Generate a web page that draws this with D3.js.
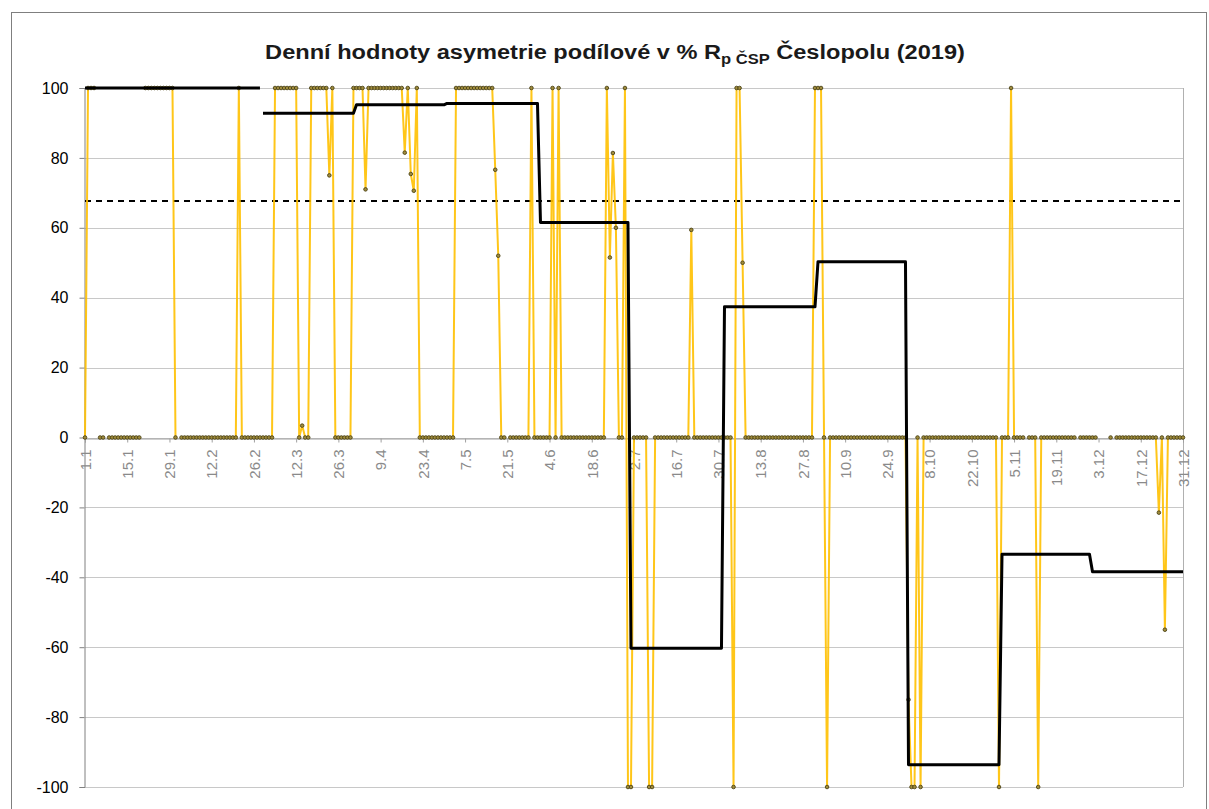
<!DOCTYPE html>
<html>
<head>
<meta charset="utf-8">
<script src="https://cdn.jsdelivr.net/npm/d3@7"></script>
<style>
  html, body { margin: 0; padding: 0; background: #fff; }
  svg { display: block; }
</style>
</head>
<body>
<svg id="chart" width="1209" height="809"></svg>
<script>
// ---------------- DATA ----------------
const titleMain = "Denní hodnoty asymetrie podílové v % R";
const titleSub = "p ČSP";
const titleEnd = " Česlopolu (2019)";

// Tick labels on the category axis (every 14th day)
const xTickLabels = ["1.1","15.1","29.1","12.2","26.2","12.3","26.3","9.4","23.4","7.5","21.5","4.6","18.6",
  "2.7","16.7","30.7","13.8","27.8","10.9","24.9","8.10","22.10","5.11","19.11","3.12","17.12","31.12"];
const yTicks = [100, 80, 60, 40, 20, 0, -20, -40, -60, -80, -100];

// Daily asymmetry values (%) for 2019, day index 0 = 1.1 ... 364 = 31.12 (null = no value)
const dailyValues = [
  0,100,100,100,null,0,0,null,0,0,              // 0-9
  0,0,0,0,0,0,0,0,0,null,                       // 10-19
  100,100,100,100,100,100,100,100,100,100,      // 20-29
  0,null,0,0,0,0,0,0,0,0,                       // 30-39
  0,0,0,0,0,0,0,0,0,0,                          // 40-49
  0,100,0,0,0,0,0,0,0,0,                        // 50-59
  0,0,0,100,100,100,100,100,100,100,            // 60-69
  100,0,3.4,0,0,100,100,100,100,100,            // 70-79
  100,75,100,0,0,0,0,0,0,100,                   // 80-89
  100,100,100,71,100,100,100,100,100,100,       // 90-99
  100,100,100,100,100,100,81.5,100,75.4,70.6,   // 100-109
  100,0,0,0,0,0,0,0,0,0,                        // 110-119
  0,0,0,100,100,100,100,100,100,100,            // 120-129
  100,100,100,100,100,100,76.6,52,0,0,          // 130-139
  null,0,0,0,0,0,0,0,100,0,                     // 140-149
  0,0,0,0,0,100,0,100,0,0,                      // 150-159
  0,0,0,0,0,0,0,0,0,0,                          // 160-169
  0,0,0,100,51.5,81.4,60,0,0,100,               // 170-179
  -100,-100,0,0,0,0,0,-100,-100,0,              // 180-189
  0,0,0,0,0,0,0,0,0,0,                          // 190-199
  0,59.4,0,0,0,0,0,0,0,0,                       // 200-209
  0,0,0,0,0,-100,100,100,50,0,                  // 210-219
  0,0,0,0,0,0,0,0,0,0,                          // 220-229
  0,0,0,0,0,0,0,0,0,0,                          // 230-239
  0,0,100,100,100,0,-100,0,0,0,                 // 240-249
  0,0,0,0,0,0,0,0,0,0,                          // 250-259
  0,0,0,0,0,0,0,0,0,0,                          // 260-269
  0,0,0,-75,-100,-100,0,-100,0,0,               // 270-279
  0,0,0,0,0,0,0,0,0,0,                          // 280-289
  0,0,0,0,0,0,0,0,0,0,                          // 290-299
  0,0,0,-100,0,0,0,100,0,0,                     // 300-309
  0,0,null,0,0,0,-100,0,0,0,                    // 310-319
  0,0,0,0,0,0,0,0,0,null,                       // 320-329
  0,0,0,0,0,0,null,null,null,null,              // 330-339
  0,null,0,0,0,0,0,0,0,0,                       // 340-349
  0,0,0,0,0,0,-21.5,0,-55,0,                    // 350-359
  0,0,0,0,0                                     // 360-364
];

// Monthly (period) averages drawn as the black step line
const monthDays = [31,28,31,30,31,30,31,31,30,31,30,31];
const monthAverages = [100, 100, 92.8, 95.2, 95.6, 61.5, -60.3, 37.4, 50.3, -93.6, -33.4, -38.4];
// groups of months that are joined into one continuous black path
const monthGroups = [[0,1],[2,3,4,5,6,7,8,9,10,11]];

// Threshold (dashed line)
const thresholdValue = 67.7;

// ---------------- LAYOUT ----------------
const svg = d3.select("#chart");
const plot = { left: 85, right: 1183, top: 88, bottom: 787 };

const x = d3.scaleLinear().domain([0, dailyValues.length - 1]).range([plot.left, plot.right]);
const y = d3.scaleLinear().domain([-100, 100]).range([plot.bottom, plot.top]);

// outer frame
svg.append("rect")
  .attr("x", 11.5).attr("y", 12.5)
  .attr("width", 1195).attr("height", 830)
  .attr("fill", "#fff").attr("stroke", "#7f7f7f").attr("stroke-width", 1);

// title (stretched horizontally to the width it has in the original)
const titleG = svg.append("g");
const title = titleG.append("text")
  .attr("x", 0).attr("y", 0)
  .attr("text-anchor", "middle")
  .attr("font-family", "Arial, 'Liberation Sans', sans-serif")
  .attr("font-size", 20)
  .attr("font-weight", "bold")
  .attr("fill", "#1a1a1a");
title.append("tspan").text(titleMain);
title.append("tspan").attr("font-size", 14).attr("dy", 5).text(titleSub);
title.append("tspan").attr("dy", -5).text(titleEnd);
const tw = title.node().getBBox().width;
const sx = 700 / tw;
titleG.attr("transform", `translate(615,59) scale(${sx},1)`);

// gridlines
svg.append("g")
  .selectAll("line")
  .data(yTicks)
  .join("line")
  .attr("x1", plot.left).attr("x2", plot.right)
  .attr("y1", d => Math.round(y(d)) + 0.5).attr("y2", d => Math.round(y(d)) + 0.5)
  .attr("stroke", "#c8c8c8").attr("stroke-width", 1);

// right border of plot area
svg.append("line")
  .attr("x1", plot.right + 0.5).attr("x2", plot.right + 0.5)
  .attr("y1", plot.top).attr("y2", plot.bottom)
  .attr("stroke", "#b0b0b0");

// y axis
const yAxis = d3.axisLeft(y).tickValues(yTicks).tickSize(5).tickPadding(11).tickFormat(d => String(d));
const gy = svg.append("g").attr("transform", `translate(${plot.left - 0.5},0)`).call(yAxis);
gy.select(".domain").attr("stroke", "#808080");
gy.selectAll(".tick line").attr("stroke", "#808080");
gy.selectAll(".tick text")
  .attr("font-family", "Arial, 'Liberation Sans', sans-serif")
  .attr("font-size", 16).attr("fill", "#000");

// x axis (crosses at 0)
const tickIdx = xTickLabels.map((_, k) => k * 14);
const xAxis = d3.axisBottom(x).tickValues(tickIdx).tickSize(4).tickFormat((d, k) => xTickLabels[k]);
const gx = svg.append("g").attr("transform", `translate(0,${Math.round(y(0)) + 0.5})`).call(xAxis);
gx.select(".domain").attr("stroke", "#a0a0a0");
gx.selectAll(".tick line").attr("stroke", "#a0a0a0");
gx.selectAll(".tick text")
  .attr("font-family", "Arial, 'Liberation Sans', sans-serif")
  .attr("font-size", 15).attr("fill", "#8a8a8a")
  .attr("text-anchor", "end")
  .attr("transform", "rotate(-90)")
  .attr("x", -11).attr("y", 0).attr("dy", "0.35em");

// threshold dashed line
svg.append("line")
  .attr("x1", plot.left).attr("x2", plot.right)
  .attr("y1", y(thresholdValue)).attr("y2", y(thresholdValue))
  .attr("stroke", "#000").attr("stroke-width", 2)
  .attr("stroke-dasharray", "6,5");

// daily series
const daily = dailyValues.map((v, i) => ({ i, v }));
const lineDaily = d3.line()
  .defined(d => d.v !== null)
  .x(d => x(d.i)).y(d => y(d.v));
svg.append("path")
  .datum(daily)
  .attr("d", lineDaily)
  .attr("fill", "none")
  .attr("stroke", "#FFC000")
  .attr("stroke-opacity", 0.9)
  .attr("stroke-width", 2)
  .attr("stroke-linejoin", "round");

svg.append("g")
  .selectAll("circle")
  .data(daily.filter(d => d.v !== null))
  .join("circle")
  .attr("cx", d => x(d.i)).attr("cy", d => y(d.v))
  .attr("r", 1.8)
  .attr("fill", "#a08c3c")
  .attr("stroke", "#4b4214")
  .attr("stroke-width", 0.9);

// monthly step line
const monthStart = d3.cumsum([0, ...monthDays.slice(0, -1)]);
monthGroups.forEach(group => {
  const pts = [];
  group.forEach(m => {
    const s = monthStart[m], e = s + monthDays[m] - 1;
    pts.push([x(s), y(monthAverages[m])]);
    pts.push([x(e), y(monthAverages[m])]);
  });
  svg.append("path")
    .attr("d", d3.line()(pts))
    .attr("fill", "none")
    .attr("stroke", "#000")
    .attr("stroke-width", 3)
    .attr("stroke-linejoin", "round");
});
</script>
</body>
</html>
